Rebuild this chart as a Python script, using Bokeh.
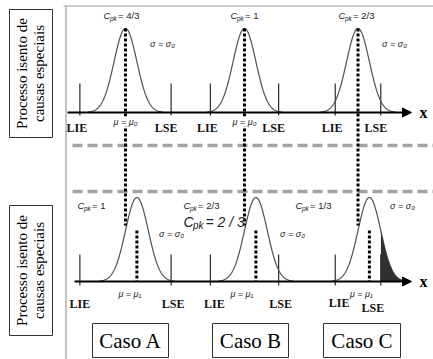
import numpy as np
from bokeh.plotting import figure
from bokeh.models import Range1d, Arrow, NormalHead
from bokeh.embed import file_html
from bokeh.resources import INLINE
from bokeh.core.properties import value

# ---- data ----
cases = ["Caso A", "Caso B", "Caso C"]
cp_values = [4 / 3, 1.0, 2 / 3]          # top row (centred process)
cp_labels = ["4/3", "1", "2/3"]
cpk_values = [1.0, 2 / 3, 1 / 3]         # bottom row (shifted mean)
cpk_labels = ["1", "2/3", "1/3"]
row_title = ["Processo isento de", "causas especiais"]
spec_names = ["LIE", "LSE"]
mu_top_label = "\u03bc = \u03bc\u2080"
mu_bot_label = "\u03bc = \u03bc\u2081"
sigma_label = "\u03c3 = \u03c3\u2080"

# ---- layout (pixel-like data space) ----
W, H = 433, 359
p = figure(width=W, height=H, output_backend="svg", toolbar_location=None,
           x_range=Range1d(0, W), y_range=Range1d(H, 0),
           x_axis_type=None, y_axis_type=None, min_border=0,
           outline_line_color=None, background_fill_color="white",
           border_fill_color="white")
p.grid.visible = False

centers = [125.0, 244.0, 357.5]
s = 11.4            # sigma in pixels
peak = 84.0
top_base, bot_base = 112.0, 281.0
SERIF = value("Liberation Serif")
SANS = value("Liberation Sans")

# frame lines
p.line([65.5, 65.5], [5, 359], line_color="#b0b0b0", line_width=1.5)
p.line([63, 433], [5.5, 5.5], line_color="#a0a0a0", line_width=1.2)

# row-title boxes
for (y0, y1) in [(9, 137), (205, 335)]:
    p.quad(left=9, right=52, top=y0, bottom=y1, fill_color=None,
           line_color="#333333", line_width=1)
    yc = (y0 + y1) / 2
    p.text(x=[21, 38], y=[yc, yc], text=row_title, angle=np.pi / 2,
           text_font=SERIF, text_font_size="15px", text_align="center",
           text_baseline="middle", text_color="black")

# gray dashed separators
for yy in (145, 191):
    p.line([72, 433], [yy, yy], line_color="#a3a3a3", line_width=3.5,
           line_dash="10 5")

# axes with arrows
for base, x0 in ((top_base, 67), (bot_base, 74)):
    p.add_layout(Arrow(end=NormalHead(size=9, fill_color="black", line_color="black"),
                       x_start=x0, y_start=base, x_end=411, y_end=base,
                       line_width=2, line_color="black"))
    p.text(x=[419], y=[base], text=["x"], text_font=SERIF, text_font_style="bold",
           text_font_size="16px", text_baseline="middle", text_align="left")

z = np.linspace(-3.3, 3.3, 200)
g = np.exp(-z ** 2 / 2)


def cpk_text(xl, y, val, big=False):
    fs, fsub = (14, 10) if big else (9.5, 6.5)
    p.text(x=[xl], y=[y], text=["C"], text_font=SANS, text_font_style="italic",
           text_font_size=f"{fs}px", text_baseline="middle", text_align="left",
           text_color="#222222")
    p.text(x=[xl + fs * 0.68], y=[y + fs * 0.3], text=["pk"], text_font=SANS,
           text_font_style="italic", text_font_size=f"{fsub}px",
           text_baseline="middle", text_align="left", text_color="#222222")
    p.text(x=[xl + fs * 0.68 + fsub * 1.25], y=[y], text=["= " + val],
           text_font=SANS, text_font_style="italic" if big else "normal",
           text_font_size=f"{fs}px", text_baseline="middle", text_align="left",
           text_color="#222222")


def small(x, y, t):
    p.text(x=[x], y=[y], text=[t], text_font=SANS, text_font_style="italic",
           text_font_size="9px", text_align="center", text_baseline="middle",
           text_color="#222222")


for i, c in enumerate(centers):
    lie = c - 3 * cp_values[i] * s
    lse = c + 3 * cp_values[i] * s
    mu1 = lse - 3 * cpk_values[i] * s

    # ---- top row ----
    for xv in (lie, lse):
        p.line([xv, xv], [83, 115], line_color="black", line_width=1)
    p.line(c + z * s, top_base - peak * g, line_color="#505050", line_width=1.2)
    # ---- bottom row ----
    for xv in (lie, lse):
        p.line([xv, xv], [254, 285], line_color="black", line_width=1)
    p.line(mu1 + z * s, bot_base - peak * g, line_color="#505050", line_width=1.2)
    if i == 2:
        m = (mu1 + z * s) >= lse
        p.varea(x=(mu1 + z * s)[m], y1=bot_base, y2=(bot_base - peak * g)[m],
                fill_color="#303030")

    # dotted centre lines
    p.line([c, c], [28, 225], line_color="black", line_width=3, line_dash="3 2")
    p.line([mu1, mu1], [230, bot_base], line_color="black", line_width=3,
           line_dash="3 2")

    # spec labels
    p.text(x=[lie - 3, lse - 5], y=[127, 127], text=spec_names, text_font=SERIF,
           text_font_style="bold", text_font_size="12px", text_align="center",
           text_baseline="middle", text_color="#111111")
    yb = [303, 303] if i < 2 else [302, 307]
    dxe = [5, 3] if i < 2 else [-1, -7]
    p.text(x=[lie + 4 - 4 * (i == 0), lse + dxe[1] - 1], y=yb, text=spec_names,
           text_font=SERIF, text_font_style="bold", text_font_size="12px",
           text_align="center", text_baseline="middle", text_color="#111111")

    # mu labels
    if i < 2:
        p.rect(x=[c], y=[121], width=26, height=10, fill_color="white",
               line_color=None)
        small(c, 121, mu_top_label)
    small(mu1 - 7 if i == 0 else (mu1 - 14 if i == 1 else mu1 - 8), 293, mu_bot_label)

# Cpk labels
cpk_text(103, 15, cp_labels[0])
cpk_text(230, 15, cp_labels[1])
cpk_text(338, 15, cp_labels[2])
cpk_text(77, 205, cpk_labels[0])
cpk_text(183, 205, cpk_labels[1])
cpk_text(183, 221, cpk_labels[1].replace("/", " / "), big=True)
cpk_text(295, 205, cpk_labels[2])

# sigma labels
for (xx, yy) in [(162, 43), (394, 43), (171, 233), (292, 233), (402, 205)]:
    small(xx, yy, sigma_label)

# case boxes
box_l = [92, 212, 323]
box_r = [168, 288, 400]
for l, r, t in zip(box_l, box_r, cases):
    p.quad(left=l, right=r, top=323, bottom=357, fill_color=None,
           line_color="#333333", line_width=1)
    p.text(x=[(l + r) / 2], y=[340], text=[t], text_font=SERIF,
           text_font_size="21px", text_align="center", text_baseline="middle",
           text_color="black")

open("out.html", "w").write(file_html(p, INLINE))
